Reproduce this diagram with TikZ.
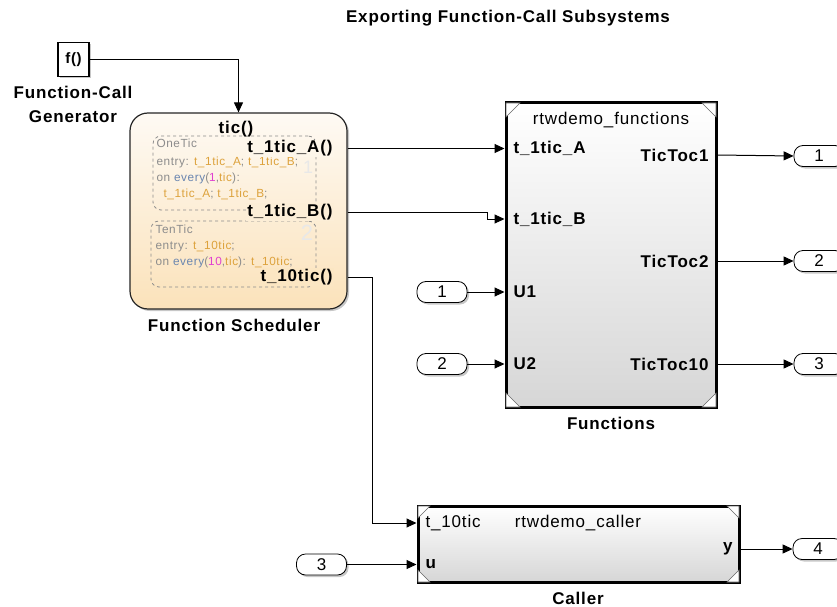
\documentclass[tikz,border=0pt]{standalone}
\usepackage{fontspec}
\setmainfont[LetterSpace=5]{Liberation Sans}
\usetikzlibrary{arrows.meta,shadows}

\definecolor{sfgray}{HTML}{8C8C8C}
\definecolor{sforange}{HTML}{DDA23C}
\definecolor{sfblue}{HTML}{6A86B0}
\definecolor{sfpink}{HTML}{E040D0}
\definecolor{chartTop}{HTML}{FEFAF4}
\definecolor{chartBot}{HTML}{FBE2BA}

\begin{document}
\begin{tikzpicture}[x=1pt, y=-1pt, line width=1pt,
  sig/.style={-{Triangle[length=10pt,width=9pt]}},
  shadow/.style={drop shadow={shadow xshift=2pt, shadow yshift=-2pt, fill=black, opacity=.22}},
  blk/.style={draw, line width=3pt, top color=white, bottom color=black!16, shadow, inner sep=0pt},
  port/.style={draw, line width=.8pt, fill=white, rounded corners=9pt, minimum width=50pt,
    minimum height=21pt, inner sep=0pt, shadow, font=\fontsize{17}{17}\selectfont},
  lbl/.style={font=\bfseries\fontsize{17}{17}\selectfont, inner sep=1pt},
  txt/.style={font=\fontsize{17}{17}\selectfont, inner sep=1pt},
  sf/.style={font=\fontsize{11.8}{11.8}\selectfont, text=sfgray, anchor=west, inner sep=0pt},
  sfbox/.style={draw=black!45, dashed, line width=.8pt, rounded corners=8pt},
]

\fill[white] (0,0) rectangle (837,607);
\clip (0,0) rectangle (837,607);

\node[lbl] (title) at (508,18) {Exporting Function-Call Subsystems};

% function-call generator
\node[draw, line width=1.2pt, fill=white, shadow, minimum width=31pt, minimum height=34pt,
  font=\bfseries\fontsize{15}{15}\selectfont, inner sep=0pt] (gen) at (73.5,59.5) {f()};
\node[lbl, align=center, font=\bfseries\fontsize{17}{24}\selectfont] (genname) at (73,104) {Function-Call\\Generator};

% scheduler chart
\node[draw=black!85, line width=1.2pt, rounded corners=18pt, top color=chartTop, bottom color=chartBot,
  shadow, minimum width=217pt, minimum height=196pt] (sched) at (238.5,211) {};
\node[lbl] (schedname) at (234,325) {Function Scheduler};

\node[sfbox, minimum width=163pt, minimum height=74pt] (one) at (234.5,173) {};
\node[sfbox, minimum width=165pt, minimum height=66pt] (ten) at (233.5,254) {};
\node[font=\fontsize{18}{18}\selectfont, text=black!9, inner sep=0pt] (n1) at (308,167) {1};
\node[font=\fontsize{22}{22}\selectfont, text=black!9] (n2) at (307,233) {2};

\node[sf] (oneA) at (156,143) {OneTic};
\node[sf] (oneB) at (156,162) {entry: \textcolor{sforange}{t\_1tic\_A}; \textcolor{sforange}{t\_1tic\_B};};
\node[sf] (oneC) at (156,178) {on \textcolor{sfblue}{every}(\textcolor{sfpink}{1},\textcolor{sforange}{tic}):};
\node[sf] (oneD) at (163,194) {\textcolor{sforange}{t\_1tic\_A}; \textcolor{sforange}{t\_1tic\_B};};
\node[sf] (tenA) at (155,229) {TenTic};
\node[sf] (tenB) at (155,246) {entry: \textcolor{sforange}{t\_10tic};};
\node[sf] (tenC) at (155,262) {on \textcolor{sfblue}{every}(\textcolor{sfpink}{10},\textcolor{sforange}{tic}): \textcolor{sforange}{t\_10tic};};

\node[lbl] (stic) at (236,129) {tic()};
\node[lbl, anchor=east, fill=chartBot!18!chartTop] (sA) at (334,148.5) {t\_1tic\_A()};
\node[lbl, anchor=east, fill=chartBot!50!chartTop] (sB) at (334,212) {t\_1tic\_B()};
\node[lbl, anchor=east, fill=chartBot!84!chartTop] (s10) at (334,277) {t\_10tic()};

% functions subsystem
\node[blk, minimum width=210pt, minimum height=304pt] (fun) at (611,255) {};
\node[lbl] (funname) at (611,423) {Functions};
\node[txt] (funtitle) at (611,120) {rtwdemo\_functions};
\node[lbl, anchor=west] (fA) at (512,148.5) {t\_1tic\_A};
\node[lbl, anchor=west] (fB) at (512,219) {t\_1tic\_B};
\node[lbl, anchor=west] (fU1) at (512,292) {U1};
\node[lbl, anchor=west] (fU2) at (512,364) {U2};
\node[lbl, anchor=east] (fT1) at (710,155) {TicToc1};
\node[lbl, anchor=east] (fT2) at (710,261) {TicToc2};
\node[lbl, anchor=east] (fT10) at (710,364) {TicToc10};

% caller subsystem
\node[blk, minimum width=321pt, minimum height=76pt] (call) at (578.5,544) {};
\node[lbl] (callname) at (578,598) {Caller};
\node[txt] (calltitle) at (578,523) {rtwdemo\_caller};
\node[txt, anchor=west] (c10) at (424,523) {t\_10tic};
\node[lbl, anchor=west] (cu) at (424,564) {u};
\node[lbl, anchor=east] (cy) at (734,549) {y};

\foreach \b/\s in {fun/14, call/12}
  \foreach \c/\dx/\dy in {north west/1/1, north east/-1/1, south west/1/-1, south east/-1/-1}
    \filldraw[fill=white, draw=black!60, line width=.6pt]
      ([shift={(1.5*\dx,1.5*\dy)}]\b.\c) -- ++(\s*\dx,0) -- ++(-\s*\dx,\s*\dy) -- cycle;

% in and out ports
\node[port] (in1) at (442,292) {1};
\node[port] (in2) at (442,364) {2};
\node[port] (in3) at (321.5,564.5) {3};
\node[port] (out1) at (819,156) {1};
\node[port] (out2) at (819,261) {2};
\node[port] (out3) at (819,364) {3};
\node[port] (out4) at (818,549) {4};

% signals
\draw[sig] (gen.east) -| (sched.north);
\draw[sig] (sched.east |- sA) -- (fun.west |- fA);
\draw[sig] (sched.east |- sB) -- ++(140,0) |- (fun.west |- fB);
\draw[sig] (sched.east |- s10) -- ++(25,0) |- (call.west |- c10);
\draw[sig] (in1.east) -- (fun.west |- in1);
\draw[sig] (in2.east) -- (fun.west |- in2);
\draw[sig] (in3.east) -- (call.west |- in3);
\draw[sig] (fun.east |- fT1) -- (out1.west);
\draw[sig] (fun.east |- fT2) -- (out2.west);
\draw[sig] (fun.east |- fT10) -- (out3.west);
\draw[sig] (call.east |- cy) -- (out4.west);

\end{tikzpicture}
\end{document}
